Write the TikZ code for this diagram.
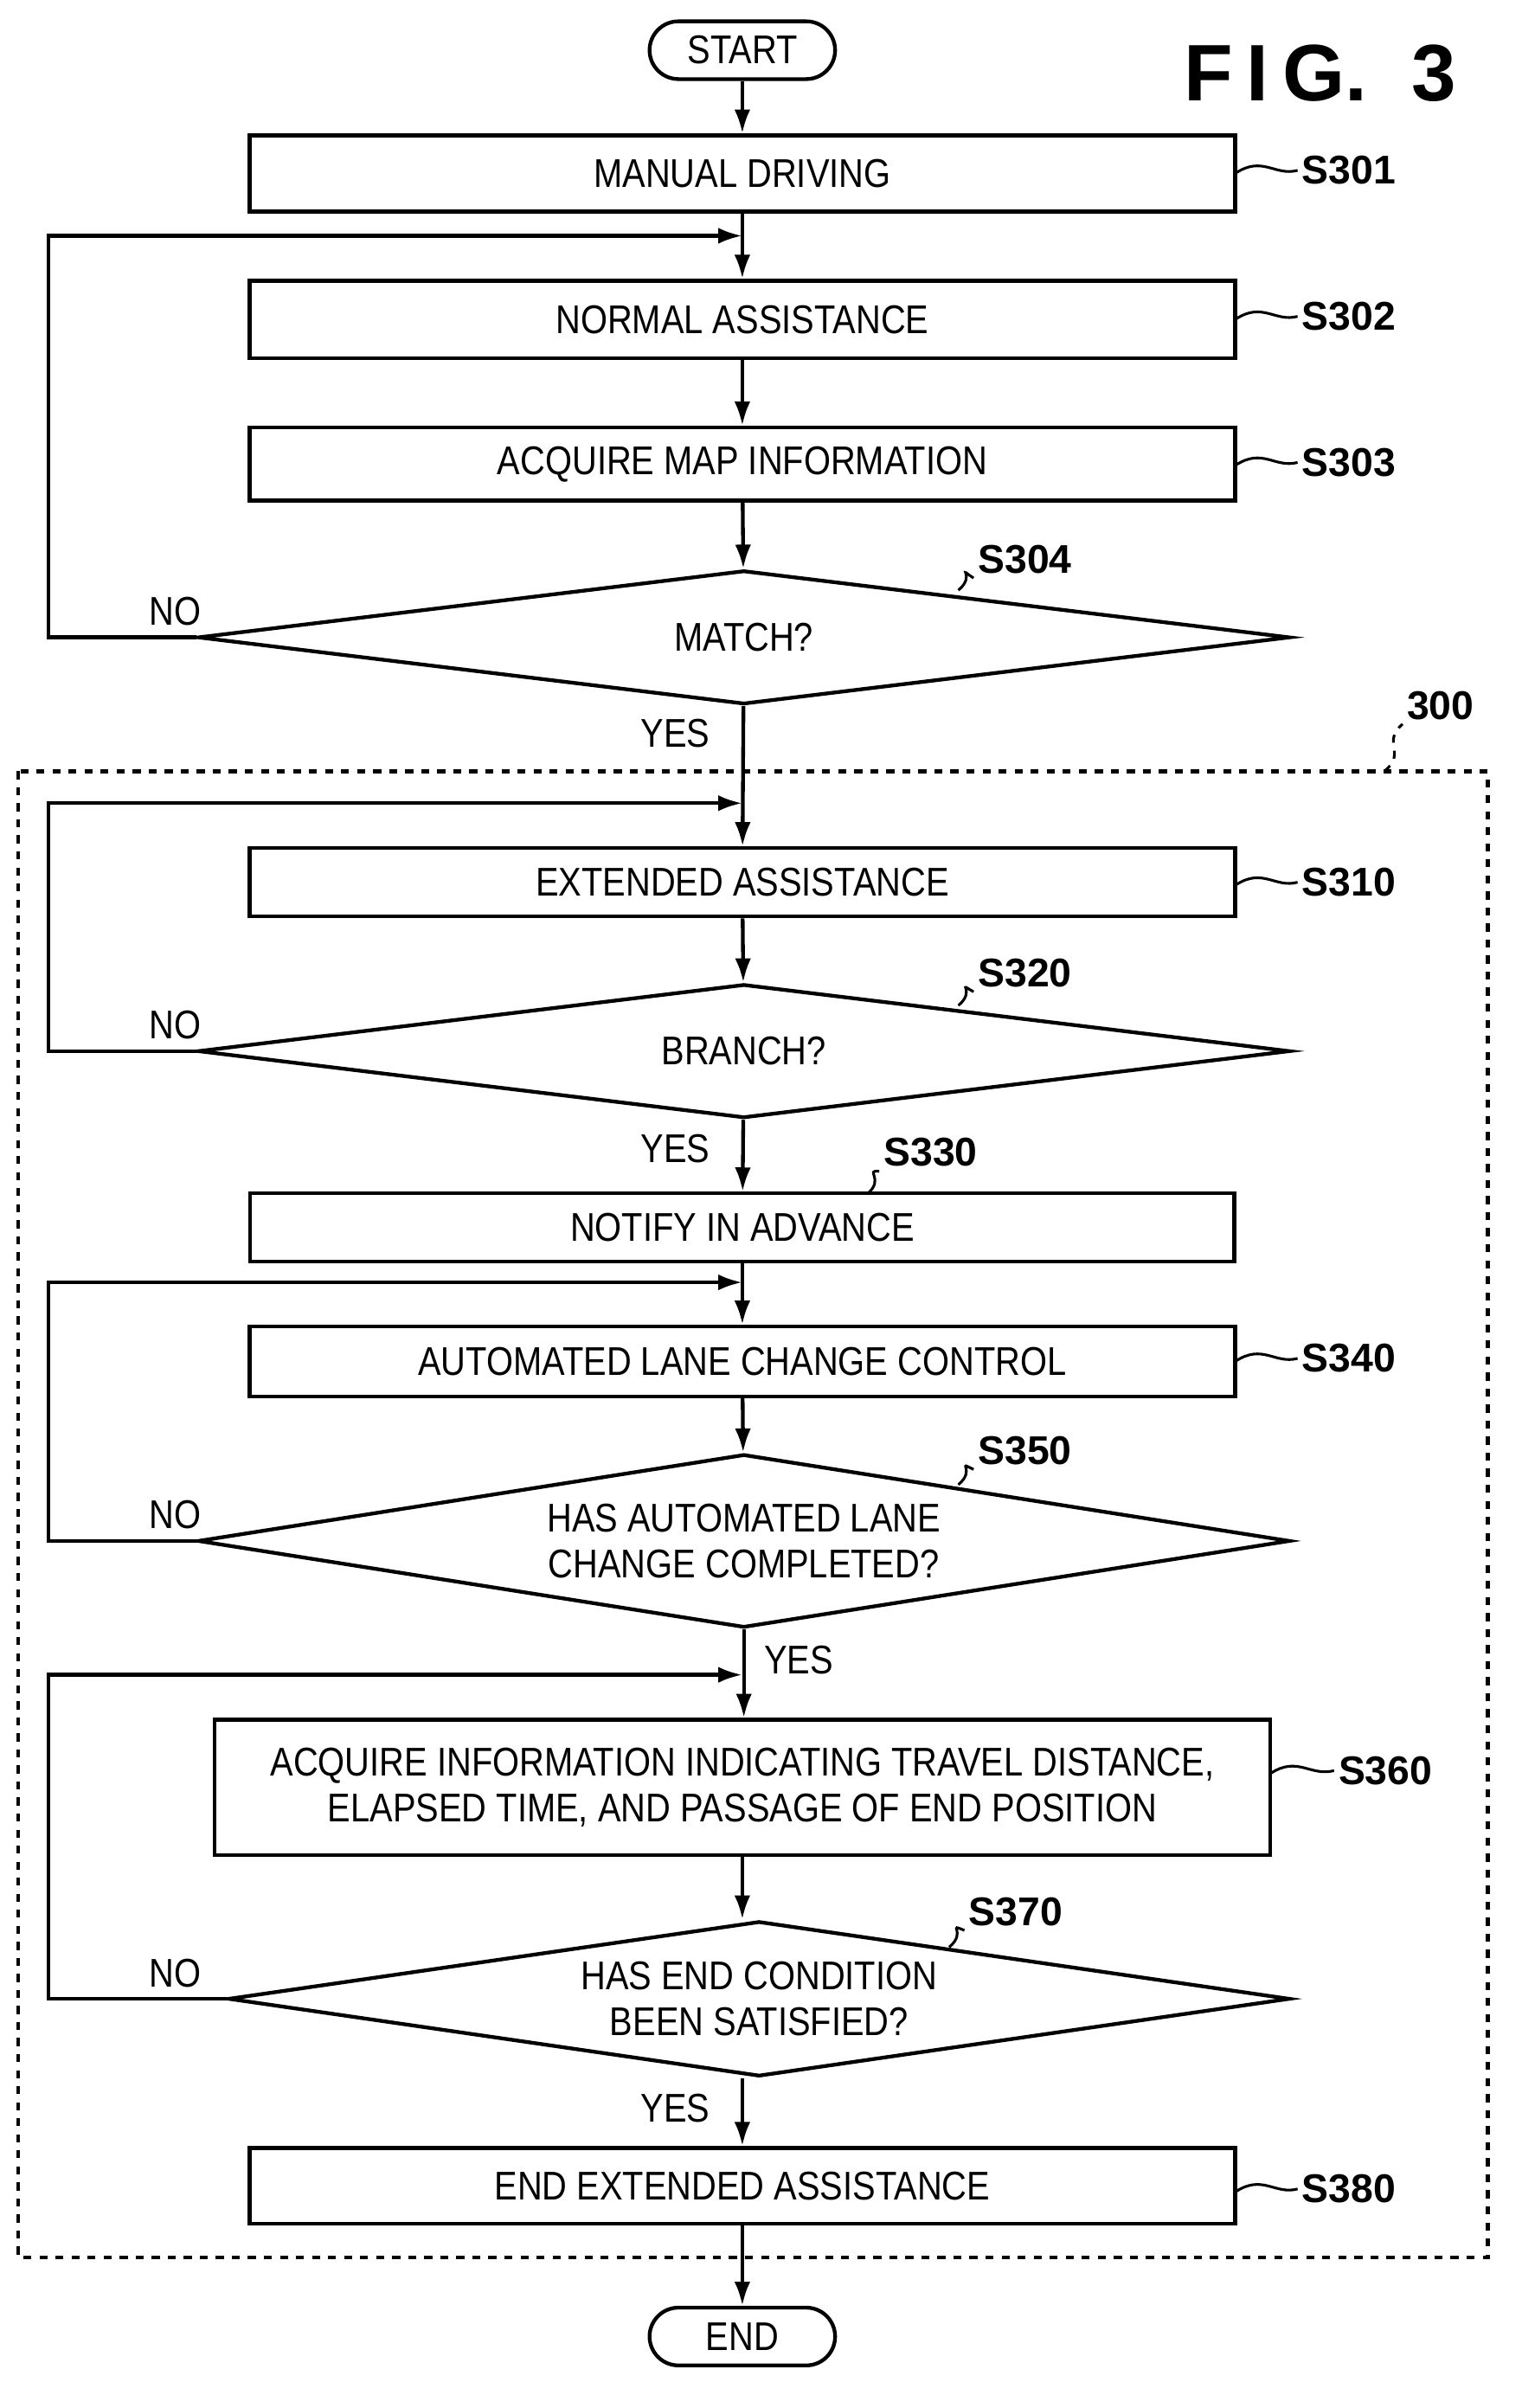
\documentclass[tikz,border=0pt]{standalone}
\usepackage{fontspec}
\setmainfont{Liberation Sans}
\newfontfamily\nar[FakeStretch=0.86]{Liberation Sans}
\usetikzlibrary{shapes.geometric,arrows.meta}
\begin{document}
\begin{tikzpicture}[x=0.02cm,y=-0.02cm,
  line width=1.4pt,
  box/.style={draw,rectangle,inner sep=0pt,font=\nar\fontsize{15}{17}\selectfont,align=center},
  dia/.style={draw,diamond,aspect=8,inner sep=0pt,minimum width=14.36cm,font=\nar\fontsize{15}{17}\selectfont,align=center},
  term/.style={draw,rounded corners=0.38cm,minimum width=2.44cm,minimum height=0.76cm,inner sep=0pt,font=\nar\fontsize{15}{17}\selectfont},
  lab/.style={font=\bfseries\fontsize{15}{17}\selectfont,inner sep=1pt},
  txt/.style={font=\nar\fontsize{15}{17}\selectfont,inner sep=0pt},
  arr/.style={-{Latex[length=9pt,width=6pt]}},
  sq/.style={line width=1pt}]
\useasboundingbox (0,0) rectangle (1000,1583);
\node[term] (start) at (488,33) {START};
\node[font=\bfseries\fontsize{30}{32}\selectfont] (fig) at (868,48) {F\,I\,G.\ \ 3};
\node[box,minimum width=12.96cm,minimum height=1.0cm] (s301) at (488,114) {MANUAL DRIVING};
\node[box,minimum width=12.96cm,minimum height=1.02cm] (s302) at (488,210) {NORMAL ASSISTANCE};
\node[box,minimum width=12.96cm,minimum height=0.96cm] (s303) at (488,305) {ACQUIRE MAP INFORMATION};
\node[dia,minimum height=1.76cm] (s304) at (489,419) {MATCH?};
\node[box,minimum width=12.96cm,minimum height=0.9cm] (s310) at (488,580) {EXTENDED ASSISTANCE};
\node[dia,minimum height=1.76cm] (s320) at (489,691) {BRANCH?};
\node[box,minimum width=12.94cm,minimum height=0.9cm] (s330) at (488,807) {NOTIFY IN ADVANCE};
\node[box,minimum width=12.96cm,minimum height=0.92cm] (s340) at (488,895) {AUTOMATED LANE CHANGE CONTROL};
\node[dia,minimum height=2.28cm] (s350) at (489,1013) {HAS AUTOMATED LANE\\CHANGE COMPLETED?};
\node[box,minimum width=13.88cm,minimum height=1.78cm] (s360) at (488,1175) {ACQUIRE INFORMATION INDICATING TRAVEL DISTANCE,\\ELAPSED TIME, AND PASSAGE OF END POSITION};
\node[dia,minimum width=13.96cm,minimum height=2.04cm] (s370) at (499,1314) {HAS END CONDITION\\BEEN SATISFIED?};
\node[box,minimum width=12.96cm,minimum height=1.0cm] (s380) at (488,1437) {END EXTENDED ASSISTANCE};
\node[term] (end) at (488,1536) {END};
% dashed frame
\draw[dashed] (12,507) rectangle (978,1484);
% arrows
\draw[arr] (start) -- (s301);
\draw[arr] (s301) -- (s302);
\draw[arr] (s302) -- (s303);
\draw[arr] (s303) -- (s304);
\draw[arr] (s304) -- (s310);
\draw[arr] (s310) -- (s320);
\draw[arr] (s320) -- (s330);
\draw[arr] (s330) -- (s340);
\draw[arr] (s340) -- (s350);
\draw[arr] (s350.south) -- (s360.north-|s350.south);
\draw[arr] (s360.south) -- (s360.south|-s370.north);
\draw[arr] (s370.south-|s380) -- (s380);
\draw[arr] (s380) -- (end);
% loops
\coordinate (l1) at (488,155);
\coordinate (l2) at (488,528);
\coordinate (l3) at (488,843);
\coordinate (l4) at (488,1101);
\draw[arr] (s304.west) -- (32,419) |- (l1);
\draw[arr] (s320.west) -- (32,691) |- (l2);
\draw[arr] (s350.west) -- (32,1013) |- (l3);
\draw[arr] (s370.west) -- (32,1314) |- (l4);
% yes/no
\node[txt] at (115,402) {NO};
\node[txt] at (115,674) {NO};
\node[txt] at (115,996) {NO};
\node[txt] at (115,1297) {NO};
\node[txt] at (444,482) {YES};
\node[txt] at (444,755) {YES};
\node[txt] at (525,1091) {YES};
\node[txt] at (444,1386) {YES};
% step labels
\foreach \n/\y in {s301/112,s302/208,s303/304,s310/580,s340/893,s380/1439}{
  \node[lab,anchor=west] (l\n) at (853,\y) {\MakeUppercase{\n}};
  \draw[sq] (812,\y+2) .. controls (830,\y-10) and (838,\y+4) .. (l\n.west);
}
\node[lab,anchor=west] (ls360) at (877,1164) {S360};
\draw[sq] (835,1166) .. controls (853,1154) and (861,1168) .. (ls360.west);
\node[lab,anchor=south west] (ls304) at (640,380) {S304};
\draw[sq] (630,388) .. controls (642,378) and (628,372) .. (ls304.south west);
\node[lab,anchor=south west] (ls320) at (640,652) {S320};
\draw[sq] (630,661) .. controls (642,651) and (628,645) .. (ls320.south west);
\node[lab,anchor=south west] (ls350) at (640,966) {S350};
\draw[sq] (630,976) .. controls (642,966) and (628,960) .. (ls350.south west);
\node[lab,anchor=south west] (ls370) at (634,1269) {S370};
\draw[sq] (624,1280) .. controls (636,1270) and (622,1264) .. (ls370.south west);
\node[lab,anchor=south west] (ls330) at (578,770) {S330};
\draw[sq] (570,785) .. controls (582,775) and (568,769) .. (ls330.south west);
\node[lab,anchor=south west] (l300) at (922,476) {300};
\draw[sq,dashed] (910,507) .. controls (925,495) and (908,488) .. (l300.south west);
\end{tikzpicture}
\end{document}
